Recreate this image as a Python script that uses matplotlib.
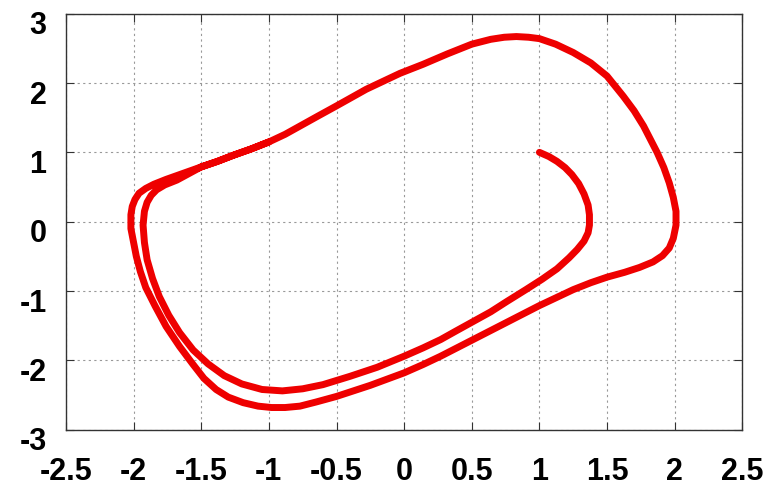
import matplotlib
matplotlib.use("Agg")
import matplotlib.pyplot as plt
from matplotlib.transforms import ScaledTranslation

plt.rcParams['axes.unicode_minus'] = False

# trajectory points (x, y), in order of travel
xs = [1.00, 1.07, 1.13, 1.19, 1.24, 1.29, 1.33, 1.36, 1.37, 1.37, 1.36, 1.33, 1.28, 1.22, 1.13, 1.02,
      0.90, 0.76, 0.64, 0.50, 0.38, 0.27, 0.14, 0.00, -0.20, -0.40, -0.60, -0.75, -0.90, -1.05, -1.20, -1.33, -1.45,
      -1.56, -1.66, -1.74, -1.81, -1.86, -1.90, -1.92, -1.93, -1.92, -1.90, -1.87, -1.83, -1.77,
      -1.68, -1.50, -1.38, -1.26, -1.13, -1.00, -0.88, -0.77, -0.64, -0.50, -0.39, -0.28, -0.15,
      -0.03, 0.14, 0.32, 0.50, 0.64, 0.74, 0.83, 0.92, 1.00, 1.12, 1.25, 1.38, 1.50, 1.62, 1.70,
      1.77, 1.82, 1.87, 1.92, 1.96, 1.99, 2.01, 2.01, 1.99, 1.96, 1.91, 1.84, 1.74, 1.63, 1.50,
      1.38, 1.25, 1.12, 1.00, 0.88, 0.76, 0.63, 0.50, 0.38, 0.27, 0.14, 0.00,
      -0.25, -0.50, -0.65, -0.77, -0.88, -0.98, -1.08, -1.19, -1.30, -1.39, -1.48, -1.56, -1.66,
      -1.76, -1.84, -1.91, -1.95, -1.98, -2.00, -2.02, -2.02, -2.01, -1.99, -1.96, -1.91, -1.85,
      -1.76, -1.63, -1.50, -1.38, -1.26, -1.13, -1.00]
ys = [1.00, 0.94, 0.87, 0.78, 0.68, 0.55, 0.40, 0.24, 0.10, -0.05, -0.16, -0.28, -0.40, -0.52, -0.68, -0.83,
      -0.98, -1.15, -1.30, -1.45, -1.58, -1.70, -1.82, -1.94, -2.10, -2.23, -2.35, -2.41, -2.44, -2.42, -2.34, -2.22, -2.05,
      -1.85, -1.60, -1.35, -1.08, -0.82, -0.55, -0.30, -0.05, 0.15, 0.28, 0.38, 0.46, 0.53,
      0.60, 0.79, 0.87, 0.96, 1.05, 1.15, 1.26, 1.38, 1.52, 1.67, 1.79, 1.91, 2.03,
      2.14, 2.27, 2.42, 2.56, 2.63, 2.66, 2.67, 2.66, 2.64, 2.56, 2.44, 2.29, 2.10, 1.81, 1.60,
      1.38, 1.19, 1.00, 0.78, 0.56, 0.35, 0.15, -0.05, -0.24, -0.38, -0.49, -0.58, -0.66, -0.73, -0.80,
      -0.88, -0.98, -1.10, -1.21, -1.33, -1.45, -1.58, -1.71, -1.83, -1.94, -2.06, -2.18,
      -2.36, -2.52, -2.60, -2.66, -2.68, -2.68, -2.66, -2.61, -2.53, -2.42, -2.26, -2.06, -1.80,
      -1.51, -1.22, -0.95, -0.72, -0.50, -0.30, -0.10, 0.10, 0.22, 0.32, 0.41, 0.48, 0.54,
      0.61, 0.70, 0.79, 0.87, 0.96, 1.05, 1.15]

xticks = [-2.5, -2, -1.5, -1, -0.5, 0, 0.5, 1, 1.5, 2, 2.5]
xtick_labels = ['-2.5', '-2', '-1.5', '-1', '-0.5', '0', '0.5', '1', '1.5', '2', '2.5']
yticks = [-3, -2, -1, 0, 1, 2, 3]
ytick_labels = ['-3', '-2', '-1', '0', '1', '2', '3']

fig = plt.figure(figsize=(7.78, 4.89), dpi=100)
ax = fig.add_axes([0.0848, 0.1192, 0.8693, 0.8508])
ax.plot(xs, ys, color='#ee0000', linewidth=5.0, solid_capstyle='round', solid_joinstyle='round', zorder=3)

ax.set_xlim(-2.5, 2.5)
ax.set_ylim(-3, 3)
ax.set_xticks(xticks)
ax.set_xticklabels(xtick_labels)
ax.set_yticks(yticks)
ax.set_yticklabels(ytick_labels)
ax.grid(True, color='#999999', linestyle=(0, (2, 3)), linewidth=0.8)
ax.tick_params(direction='in', length=6, width=0.8, top=True, right=True, color='#333333')
ax.tick_params(axis='x', pad=19)
ax.tick_params(axis='y', pad=14)
for lab in ax.get_xticklabels() + ax.get_yticklabels():
    lab.set_fontfamily('Liberation Sans')
    lab.set_fontweight('bold')
    lab.set_fontsize(22)
shift = ScaledTranslation(0, -8 / 100, fig.dpi_scale_trans)
for lab in ax.get_yticklabels():
    lab.set_transform(lab.get_transform() + shift)
for s in ax.spines.values():
    s.set_color('#333333')
    s.set_linewidth(1.0)

fig.savefig('out.png', dpi=100)
